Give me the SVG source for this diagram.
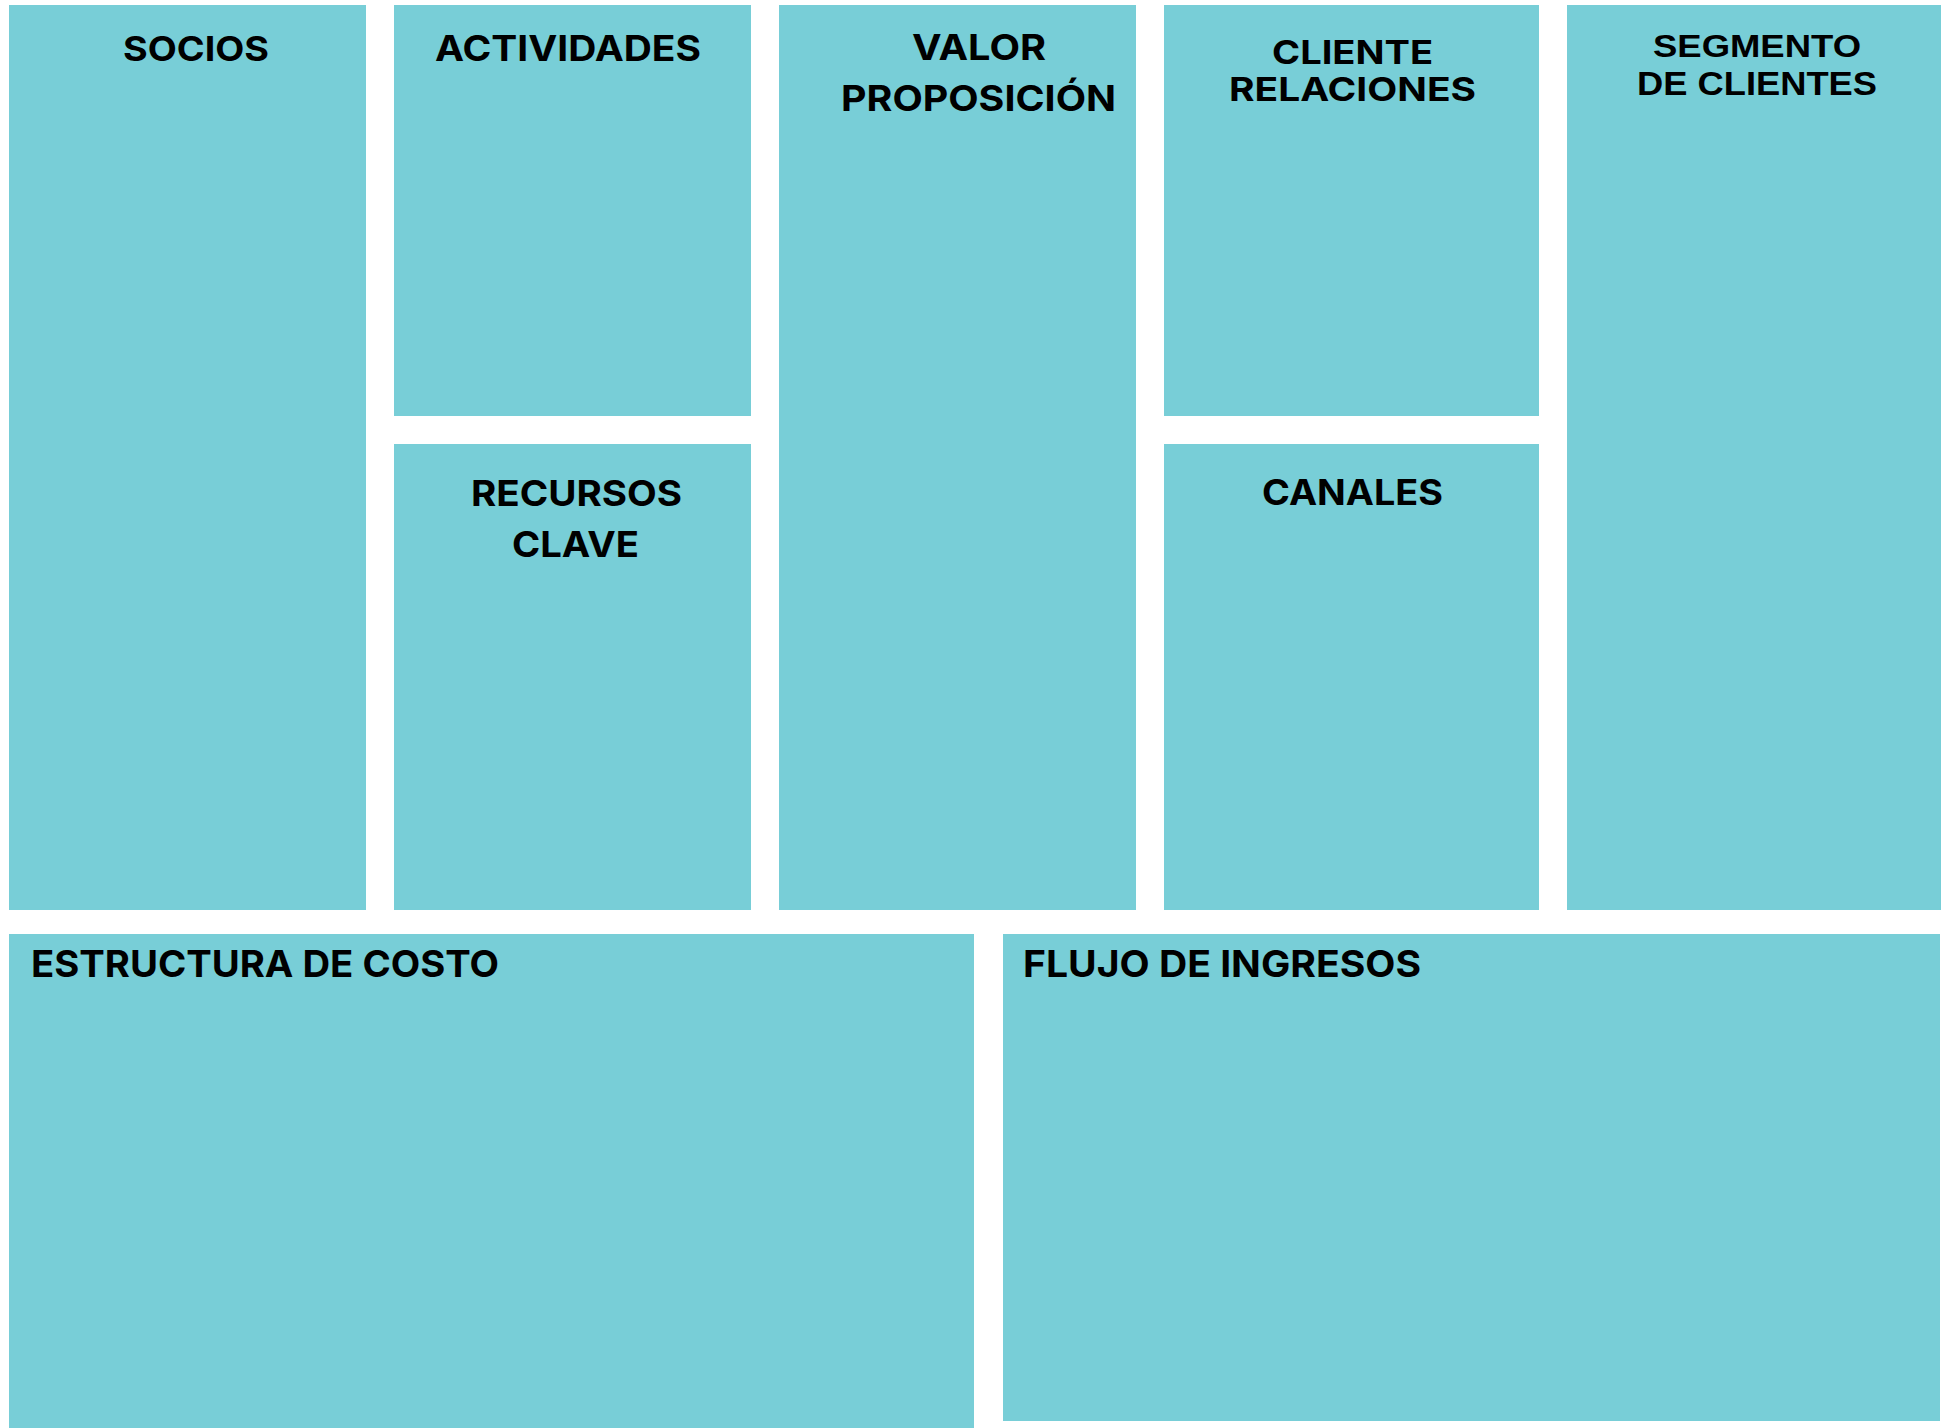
<svg xmlns="http://www.w3.org/2000/svg" width="1947" height="1428" viewBox="0 0 1947 1428">
  <style>
    .box { fill: #78CED7; }
    .lbl { font-family: Inter, "Open Sans", "Liberation Sans", sans-serif; font-weight: 700; fill: #000000; }
    .lbl2 { font-family: "Liberation Sans", Arial, sans-serif; font-weight: 700; fill: #000000; }
  </style>
  <rect x="0" y="0" width="1947" height="1428" fill="#FFFFFF"/>

  <g id="socios">
    <rect class="box" x="9" y="5" width="357" height="905"/>
    <text class="lbl" x="123" y="61" font-size="34" textLength="146" lengthAdjust="spacingAndGlyphs">SOCIOS</text>
  </g>

  <g id="actividades">
    <rect class="box" x="394" y="5" width="357" height="411"/>
    <text class="lbl" x="435" y="61" font-size="35" textLength="266" lengthAdjust="spacingAndGlyphs">ACTIVIDADES</text>
  </g>

  <g id="recursos-clave">
    <rect class="box" x="394" y="444" width="357" height="466"/>
    <text class="lbl" x="471" y="506" font-size="36" textLength="211" lengthAdjust="spacingAndGlyphs">RECURSOS</text>
    <text class="lbl" x="512" y="557" font-size="36" textLength="127" lengthAdjust="spacingAndGlyphs">CLAVE</text>
  </g>

  <g id="valor-proposicion">
    <rect class="box" x="779" y="5" width="357" height="905"/>
    <text class="lbl" x="912" y="60" font-size="36" textLength="134" lengthAdjust="spacingAndGlyphs">VALOR</text>
    <text class="lbl" x="841" y="111" font-size="36" textLength="275" lengthAdjust="spacingAndGlyphs">PROPOSICIÓN</text>
  </g>

  <g id="cliente-relaciones">
    <rect class="box" x="1164" y="5" width="375" height="411"/>
    <text class="lbl" x="1272" y="64" font-size="33" textLength="161" lengthAdjust="spacingAndGlyphs">CLIENTE</text>
    <text class="lbl" x="1229" y="101" font-size="33" textLength="247" lengthAdjust="spacingAndGlyphs">RELACIONES</text>
  </g>

  <g id="canales">
    <rect class="box" x="1164" y="444" width="375" height="466"/>
    <text class="lbl" x="1262" y="505" font-size="35" textLength="181" lengthAdjust="spacingAndGlyphs">CANALES</text>
  </g>

  <g id="segmento-clientes">
    <rect class="box" x="1567" y="5" width="374" height="905"/>
    <text class="lbl2" x="1653" y="57" font-size="32" textLength="208" lengthAdjust="spacingAndGlyphs">SEGMENTO</text>
    <text class="lbl2" x="1637" y="95" font-size="33" textLength="240" lengthAdjust="spacingAndGlyphs">DE CLIENTES</text>
  </g>

  <g id="estructura-costo">
    <rect class="box" x="9" y="934" width="965" height="494"/>
    <text class="lbl" x="31" y="977" font-size="37" textLength="468" lengthAdjust="spacingAndGlyphs">ESTRUCTURA DE COSTO</text>
  </g>

  <g id="flujo-ingresos">
    <rect class="box" x="1003" y="934" width="937" height="487"/>
    <text class="lbl" x="1023" y="977" font-size="37" textLength="398" lengthAdjust="spacingAndGlyphs">FLUJO DE INGRESOS</text>
  </g>

  <g id="connectors"/>
</svg>
